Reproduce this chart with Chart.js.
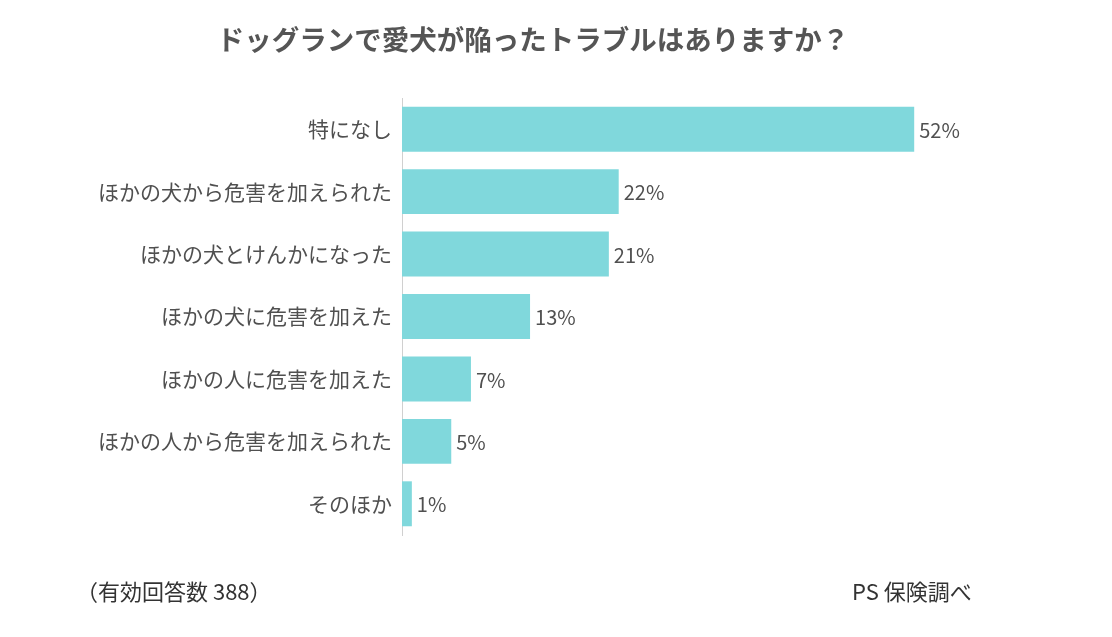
<!DOCTYPE html>
<html>
<head>
<meta charset="utf-8">
<script src="https://cdn.jsdelivr.net/npm/chart.js@4/dist/chart.umd.min.js"></script>
<style>
html,body{margin:0;padding:0;background:#fff;}
#wrap{position:relative;width:1112px;height:637px;}
</style>
</head>
<body>
<div id="wrap"><canvas id="c" width="1112" height="637"></canvas></div>
<script>
const titleText = "ドッグランで愛犬が陥ったトラブルはありますか？";
const categories = ["特になし","ほかの犬から危害を加えられた","ほかの犬とけんかになった","ほかの犬に危害を加えた","ほかの人に危害を加えた","ほかの人から危害を加えられた","そのほか"];
const values = [52,22,21,13,7,5,1];
const noteLeft = "（有効回答数 388）";
const noteRight = "PS 保険調べ";

const FONT = "'Noto Sans CJK JP','Noto Sans',sans-serif";
const TEXT = "#505050";

const extras = {
  id: 'extras',
  afterDatasetsDraw(chart) {
    const ctx = chart.ctx;
    ctx.save();
    const meta = chart.getDatasetMeta(0);
    ctx.fillStyle = TEXT;
    ctx.font = "20px " + FONT;
    ctx.textAlign = "left";
    ctx.textBaseline = "middle";
    meta.data.forEach((bar, i) => {
      ctx.fillText(values[i] + "%", bar.x + 5, bar.y + 1);
    });
    ctx.font = "bold 27.5px " + FONT;
    ctx.textAlign = "center";
    ctx.fillStyle = "#555";
    ctx.fillText(titleText, 533, 40);
    ctx.font = "22px " + FONT;
    ctx.fillStyle = "#333";
    ctx.textAlign = "left";
    ctx.fillText(noteLeft, 76, 592);
    ctx.fillText(noteRight, 852, 592);
    ctx.restore();
  }
};

new Chart(document.getElementById('c'), {
  type: 'bar',
  data: {
    labels: categories,
    datasets: [{
      data: values,
      backgroundColor: '#80D8DC',
      borderWidth: 0,
      categoryPercentage: 1.0,
      barPercentage: 0.72
    }]
  },
  options: {
    indexAxis: 'y',
    responsive: false,
    animation: false,
    devicePixelRatio: 1,
    layout: { padding: { top: 98, bottom: 102, left: 0, right: 119 } },
    plugins: { legend: { display: false }, title: { display: false }, tooltip: { enabled: false } },
    scales: {
      x: { display: false, min: 0, max: 60 },
      y: {
        afterFit(scale) { scale.width = 402; },
        grid: { display: false, drawTicks: false },
        border: { display: true, color: '#d0d0d0', width: 1 },
        ticks: { color: TEXT, font: { size: 21, family: FONT }, padding: 10 }
      }
    }
  },
  plugins: [extras]
});
</script>
</body>
</html>
